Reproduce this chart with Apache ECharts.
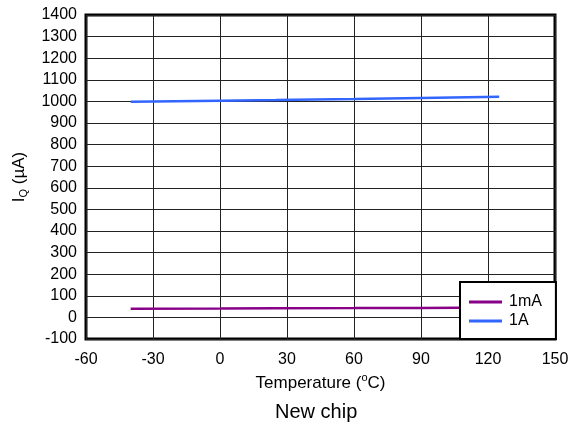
<!DOCTYPE html>
<html>
<head>
<meta charset="utf-8">
<style>
  html, body { margin: 0; padding: 0; background: #fff; }
  #chart { width: 576px; height: 423px; }
</style>
<script src="https://cdn.jsdelivr.net/npm/echarts@6/dist/echarts.min.js"></script>
</head>
<body>
<div id="chart"></div>
<script>
// Quiescent current vs temperature for two load conditions
const temperatures = [-40, 0, 25, 60, 90, 125];
const iq1mA = [40, 41, 42, 43, 44, 46];
const iq1A = [998, 1003, 1006, 1011, 1016, 1022];
const seriesNames = ['1mA', '1A'];
const seriesColors = ['#880088', '#3366ff'];

const font = 'Liberation Sans, Arial, sans-serif';
const chart = echarts.init(document.getElementById('chart'));

const toPairs = (xs, ys) => xs.map((x, i) => [x, ys[i]]);
const plainNumber = v => String(v);

chart.setOption({
  animation: false,
  backgroundColor: '#ffffff',
  title: {
    text: 'New chip',
    left: 270,
    top: 397,
    textStyle: { fontFamily: font, fontSize: 20, fontWeight: 'normal', color: '#000' }
  },
  grid: {
    left: 86, right: 21, top: 15, bottom: 84,
    show: true, borderColor: '#000', borderWidth: 3, backgroundColor: 'transparent'
  },
  legend: {
    data: seriesNames.map(name => ({ name, icon: 'rect' })),
    orient: 'vertical',
    left: 460, top: 282,
    padding: [12, 14, 10, 9],
    itemGap: 3,
    itemWidth: 33,
    itemHeight: 3,
    backgroundColor: '#fff',
    borderColor: '#000',
    borderWidth: 2,
    z: 10,
    textStyle: { fontFamily: font, fontSize: 16, color: '#000', padding: [0, 0, 0, 2] }
  },
  xAxis: {
    type: 'value',
    min: -60, max: 150, interval: 30,
    name: 'Temperature ({sup|o}C)',
    nameLocation: 'middle',
    nameGap: 28,
    nameTextStyle: {
      fontFamily: font, fontSize: 17, color: '#000',
      rich: { sup: { fontFamily: font, fontSize: 11, color: '#000', padding: [0, 0, 10, 0] } }
    },
    axisLine: { show: false },
    axisTick: { show: false },
    axisLabel: { fontFamily: font, fontSize: 16, color: '#000', margin: 13, formatter: plainNumber },
    splitLine: { show: true, lineStyle: { color: '#222', width: 1 } }
  },
  yAxis: {
    type: 'value',
    min: -100, max: 1400, interval: 100,
    name: 'I{sub|Q} (µA)',
    nameLocation: 'middle',
    nameRotate: 90,
    nameGap: 57,
    nameTextStyle: {
      fontFamily: font, fontSize: 17, color: '#000',
      rich: { sub: { fontFamily: font, fontSize: 11, color: '#000', padding: [8, 0, 0, 0] } }
    },
    axisLine: { show: false },
    axisTick: { show: false },
    axisLabel: { fontFamily: font, fontSize: 16, color: '#000', margin: 9, formatter: plainNumber },
    splitLine: { show: true, lineStyle: { color: '#222', width: 1 } }
  },
  series: [
    {
      name: seriesNames[0],
      type: 'line',
      data: toPairs(temperatures, iq1mA),
      symbol: 'none',
      color: seriesColors[0],
      lineStyle: { width: 2.5, color: seriesColors[0] }
    },
    {
      name: seriesNames[1],
      type: 'line',
      data: toPairs(temperatures, iq1A),
      symbol: 'none',
      color: seriesColors[1],
      lineStyle: { width: 2.5, color: seriesColors[1] }
    }
  ]
});
</script>
</body>
</html>
